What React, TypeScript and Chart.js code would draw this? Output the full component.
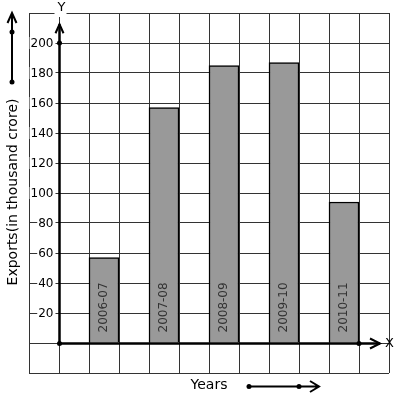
import React, { useEffect, useRef } from "react";
import { Chart, registerables } from "chart.js";

Chart.register(...registerables);

const years = ["2006-07", "2007-08", "2008-09", "2009-10", "2010-11"];
const exportsValues = [57, 157, 185, 187, 94];
const barPositions = [1.5, 3.5, 5.5, 7.5, 9.5];
const yTickLabels = [20, 40, 60, 80, 100, 120, 140, 160, 180, 200];

const FONT = "DejaVu Sans, sans-serif";

const decorPlugin = {
  id: "decor",
  afterDatasetsDraw(chart: any) {
    const ctx = chart.ctx as CanvasRenderingContext2D;
    const xs = chart.scales.x;
    const ys = chart.scales.y;
    const ox = Math.round(xs.getPixelForValue(0)) + 0.5;
    const oy = Math.round(ys.getPixelForValue(0)) + 0.5;
    ctx.save();

    // bar labels
    ctx.fillStyle = "#333";
    ctx.font = `12px ${FONT}`;
    ctx.textBaseline = "middle";
    ctx.textAlign = "left";
    years.forEach((lab, i) => {
      const px = xs.getPixelForValue(barPositions[i]);
      const py = ys.getPixelForValue(7);
      ctx.save();
      ctx.translate(px, py);
      ctx.rotate(-Math.PI / 2);
      ctx.fillText(lab, 0, 0);
      ctx.restore();
    });

    // tick labels with white background
    ctx.font = `12px ${FONT}`;
    ctx.textAlign = "right";
    ctx.textBaseline = "middle";
    yTickLabels.forEach((v) => {
      const py = ys.getPixelForValue(v);
      const right = ox - 6;
      const w = ctx.measureText(String(v)).width;
      ctx.fillStyle = "#fff";
      ctx.fillRect(right - w - 1, py - 6, w + 3, 12);
      ctx.fillStyle = "#000";
      ctx.fillText(String(v), right, py + 0.5);
    });

    // axes
    ctx.strokeStyle = "#000";
    ctx.lineWidth = 2.5;
    const yTip = ys.getPixelForValue(212.5);
    const xTip = xs.getPixelForValue(10.7);
    ctx.beginPath();
    ctx.moveTo(ox, oy);
    ctx.lineTo(ox, yTip);
    ctx.moveTo(ox, oy);
    ctx.lineTo(xTip, oy);
    ctx.stroke();
    ctx.lineWidth = 2;
    ctx.beginPath();
    ctx.moveTo(ox - 4, yTip + 9);
    ctx.lineTo(ox, yTip);
    ctx.lineTo(ox + 4, yTip + 9);
    ctx.moveTo(xTip - 10, oy - 5);
    ctx.lineTo(xTip, oy);
    ctx.lineTo(xTip - 10, oy + 5);
    ctx.stroke();

    // dots
    ctx.fillStyle = "#000";
    const dot = (x: number, y: number) => {
      ctx.beginPath();
      ctx.arc(x, y, 2.5, 0, Math.PI * 2);
      ctx.fill();
    };
    dot(ox, oy);
    dot(ox, ys.getPixelForValue(200));
    dot(xs.getPixelForValue(10), oy);

    // X and Y labels
    ctx.font = `13px ${FONT}`;
    ctx.textAlign = "left";
    ctx.textBaseline = "middle";
    ctx.fillText("X", xTip + 5, oy);
    const topY = chart.chartArea.top;
    ctx.fillStyle = "#fff";
    ctx.fillRect(ox - 5, topY - 4, 12, 8);
    ctx.fillStyle = "#000";
    ctx.textAlign = "center";
    ctx.fillText("Y", ox + 2, topY - 5);

    // y title
    ctx.font = `14px ${FONT}`;
    ctx.save();
    ctx.translate(13, 192);
    ctx.rotate(-Math.PI / 2);
    ctx.textAlign = "center";
    ctx.textBaseline = "middle";
    ctx.fillText("Exports(in thousand crore)", 0, 0);
    ctx.restore();

    // left arrow
    ctx.lineWidth = 2;
    ctx.beginPath();
    ctx.moveTo(12, 82);
    ctx.lineTo(12, 14);
    ctx.moveTo(7.5, 23);
    ctx.lineTo(12, 13);
    ctx.lineTo(16.5, 23);
    ctx.stroke();
    dot(12, 32);
    dot(12, 82);

    // x title
    ctx.font = `14px ${FONT}`;
    ctx.textAlign = "center";
    ctx.textBaseline = "middle";
    ctx.fillText("Years", 209, 385);

    // bottom arrow
    ctx.beginPath();
    ctx.moveTo(249, 386.5);
    ctx.lineTo(319, 386.5);
    ctx.moveTo(310, 381);
    ctx.lineTo(319, 386.5);
    ctx.lineTo(310, 392);
    ctx.stroke();
    dot(249, 386.5);
    dot(299, 386.5);

    ctx.restore();
  },
};

export default function App() {
  const ref = useRef<HTMLCanvasElement>(null);
  useEffect(() => {
    document.body.style.margin = "0";
    const chart = new Chart(ref.current!, {
      type: "bar",
      data: {
        datasets: [
          {
            data: exportsValues.map((v, i) => ({ x: barPositions[i], y: v })),
            backgroundColor: "#999999",
            borderColor: "#000",
            borderWidth: 1.5,
            barThickness: 30,
          },
        ],
      },
      options: {
        animation: false,
        responsive: false,
        maintainAspectRatio: false,
        layout: { padding: { left: 29, right: 8, top: 13, bottom: 26 } },
        plugins: { legend: { display: false }, tooltip: { enabled: false } },
        scales: {
          x: {
            type: "linear",
            min: -1,
            max: 11,
            offset: false,
            ticks: { display: false, stepSize: 1 },
            grid: { color: "#333", lineWidth: 1, drawTicks: false, offset: false },
            border: { display: false },
          },
          y: {
            type: "linear",
            min: -20,
            max: 220,
            ticks: { display: false, stepSize: 20 },
            grid: { color: "#333", lineWidth: 1, drawTicks: false },
            border: { display: false },
          },
        },
      },
      plugins: [decorPlugin],
    });
    return () => chart.destroy();
  }, []);
  return (
    <div style={{ position: "fixed", left: 0, top: 0, width: 397, height: 399, background: "#fff" }}>
      <canvas ref={ref} width={397} height={399} style={{ display: "block" }} />
    </div>
  );
}
